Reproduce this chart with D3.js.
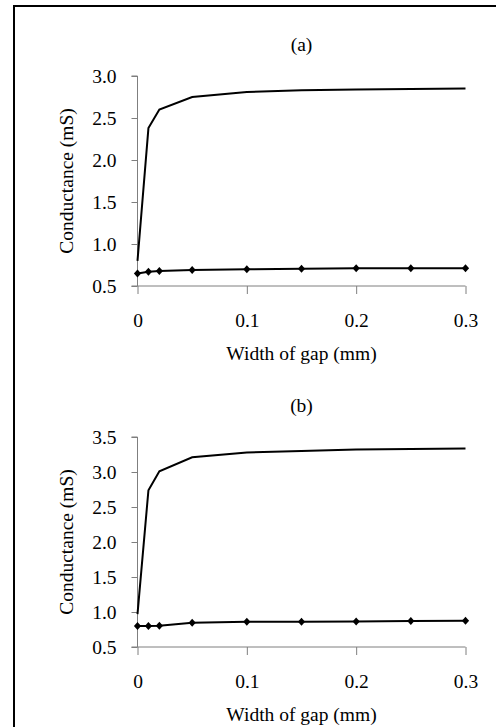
<!DOCTYPE html>
<html>
<head>
<meta charset="utf-8">
<script src="https://cdn.jsdelivr.net/npm/d3@7"></script>
<style>
  html, body { margin: 0; padding: 0; background: #fff; }
  svg { display: block; }
  .axis path, .axis line { stroke: #7f7f7f; }
</style>
</head>
<body>
<div id="chart"></div>
<script>
// gap widths (mm)
const gapWidths = [0, 0.01, 0.02, 0.05, 0.1, 0.15, 0.2, 0.25, 0.3];

// panel (a)
const upperA = [0.80, 2.38, 2.60, 2.75, 2.81, 2.83, 2.84, 2.845, 2.85];
const lowerA = [0.65, 0.67, 0.68, 0.69, 0.70, 0.705, 0.71, 0.71, 0.71];

// panel (b)
const upperB = [0.97, 2.74, 3.01, 3.21, 3.28, 3.30, 3.32, 3.33, 3.335];
const lowerB = [0.80, 0.80, 0.805, 0.845, 0.86, 0.86, 0.865, 0.87, 0.875];

const xTicks  = [0, 0.1, 0.2, 0.3];
const yTicksA = [0.5, 1.0, 1.5, 2.0, 2.5, 3.0];
const yTicksB = [0.5, 1.0, 1.5, 2.0, 2.5, 3.0, 3.5];

const W = 496, H = 727;
const FONT = "'Liberation Serif', 'Times New Roman', serif";

const svg = d3.select('#chart').append('svg')
  .attr('width', W)
  .attr('height', H)
  .attr('font-family', FONT);

// frame, clipped at right and bottom like the scan
svg.append('path')
  .attr('d', `M14,${H} L14,6 L${W},6`)
  .attr('fill', 'none')
  .attr('stroke', '#000')
  .attr('stroke-width', 2);

class Panel {
  constructor(_config) {
    this.config = _config;
    this.initVis();
  }

  initVis() {
    let vis = this;
    const c = vis.config;
    const fs = 19.5;

    vis.xScale = d3.scaleLinear().domain([0, 0.3]).range([137.5, 465.5]);
    vis.yScale = d3.scaleLinear().domain([0.5, c.yMax]).range([c.bottom, c.top]);

    const g = svg.append('g');

    // y axis
    const yAxisG = g.append('g').attr('class', 'axis')
      .attr('transform', `translate(${vis.xScale(0)},0)`)
      .call(d3.axisLeft(vis.yScale).tickValues(c.yTicks).tickSize(6).tickPadding(15)
        .tickFormat(d3.format('.1f')));
    yAxisG.attr('font-family', FONT).attr('font-size', fs);
    yAxisG.select('.domain').attr('d', `M-6,${c.top}H0V${c.bottom}H-6`);
    yAxisG.selectAll('text').attr('fill', '#000').attr('dy', '0.34em');

    // x axis
    const xAxisG = g.append('g').attr('class', 'axis')
      .attr('transform', `translate(0,${c.bottom})`)
      .call(d3.axisBottom(vis.xScale).tickValues(xTicks).tickSize(8).tickPadding(19)
        .tickFormat(d => d === 0 ? '0' : d3.format('.1f')(d)));
    xAxisG.attr('font-family', FONT).attr('font-size', fs);
    xAxisG.select('.domain').attr('d', `M${vis.xScale(0)},0H${vis.xScale(0.3)}`);
    xAxisG.selectAll('text').attr('fill', '#000');

    // titles
    const cx = (vis.xScale(0) + vis.xScale(0.3)) / 2;
    g.append('text')
      .attr('x', cx).attr('y', c.top - 25)
      .attr('text-anchor', 'middle')
      .attr('font-size', fs)
      .text(c.title);

    g.append('text')
      .attr('x', cx).attr('y', c.bottom + 74)
      .attr('text-anchor', 'middle')
      .attr('font-size', fs)
      .text('Width of gap (mm)');

    g.append('text')
      .attr('transform', `translate(73,${(c.top + c.bottom) / 2}) rotate(-90)`)
      .attr('text-anchor', 'middle')
      .attr('font-size', fs)
      .text('Conductance (mS)');

    const line = d3.line()
      .x(d => vis.xScale(d[0]))
      .y(d => vis.yScale(d[1]));

    const upper = gapWidths.map((x, i) => [x, c.upper[i]]);
    const lower = gapWidths.map((x, i) => [x, c.lower[i]]);

    g.append('path').datum(upper)
      .attr('d', line)
      .attr('fill', 'none')
      .attr('stroke', '#000')
      .attr('stroke-width', 2);

    g.append('path').datum(lower)
      .attr('d', line)
      .attr('fill', 'none')
      .attr('stroke', '#000')
      .attr('stroke-width', 2);

    g.selectAll('.marker').data(lower).enter()
      .append('path').attr('class', 'marker')
      .attr('d', 'M0,-4L3.6,0L0,4L-3.6,0Z')
      .attr('transform', d => `translate(${vis.xScale(d[0])},${vis.yScale(d[1])})`)
      .attr('fill', '#000');
  }
}

new Panel({ title: '(a)', top: 76,  bottom: 286, yMax: 3.0, yTicks: yTicksA, upper: upperA, lower: lowerA });
new Panel({ title: '(b)', top: 437, bottom: 647, yMax: 3.5, yTicks: yTicksB, upper: upperB, lower: lowerB });
</script>
</body>
</html>
